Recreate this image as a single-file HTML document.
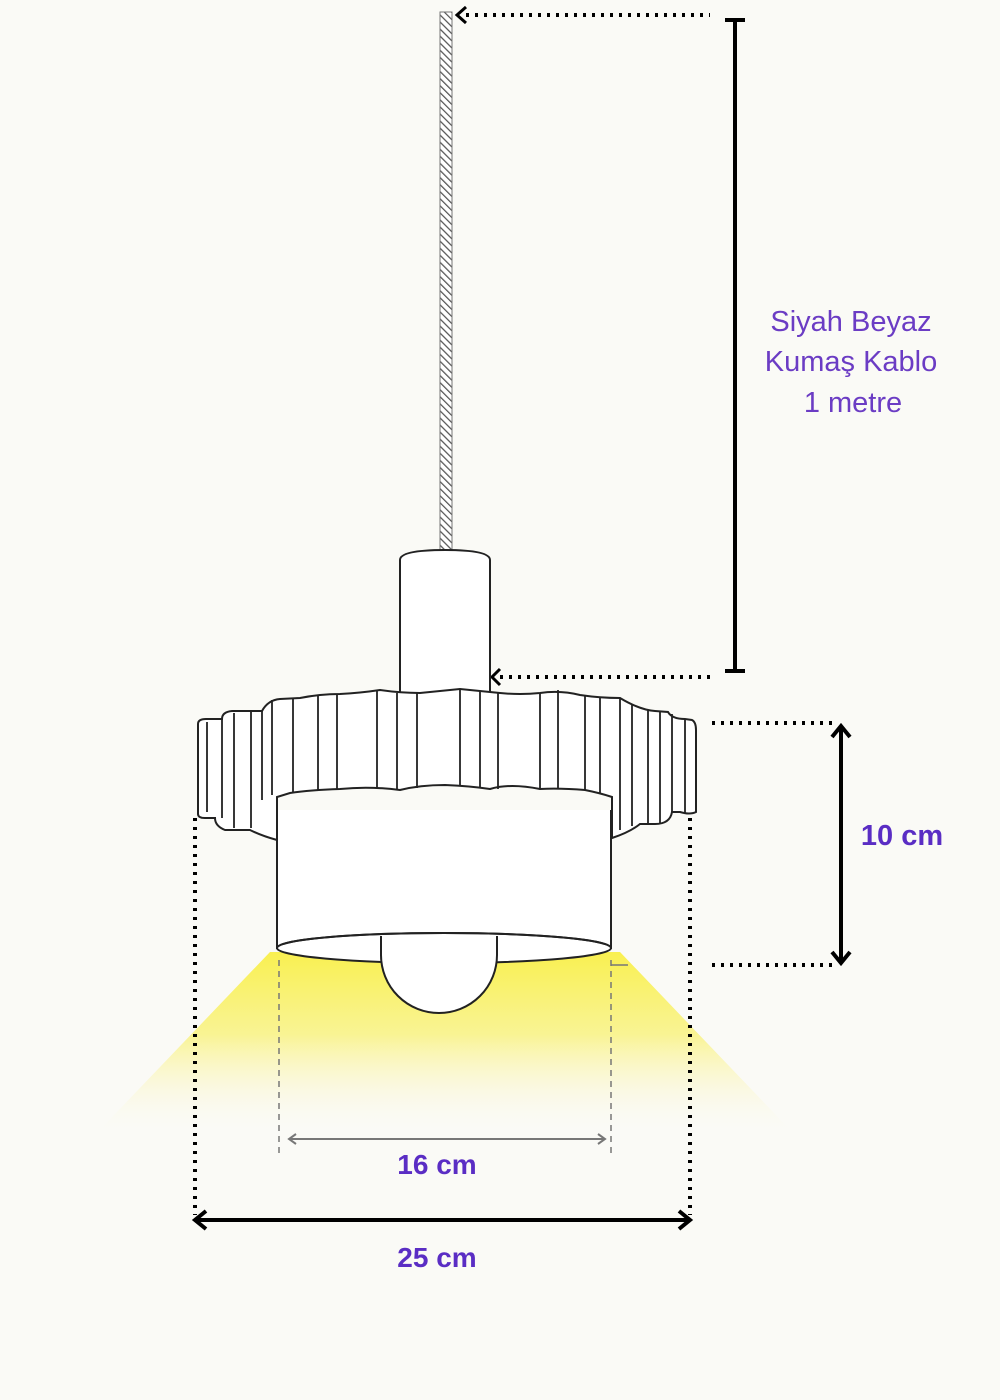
<!DOCTYPE html>
<html><head><meta charset="utf-8"><style>
html,body{margin:0;padding:0;background:#fafaf6;}
svg{display:block;}
text{font-family:"Liberation Sans",sans-serif;}
</style></head><body>
<svg width="1000" height="1400" viewBox="0 0 1000 1400" xmlns="http://www.w3.org/2000/svg">
<defs>
<pattern id="hatch" width="5" height="5" patternUnits="userSpaceOnUse" patternTransform="rotate(-45)">
<rect width="5" height="5" fill="#fff"/><line x1="0" y1="0" x2="0" y2="5" stroke="#555" stroke-width="2.5"/>
</pattern>
<linearGradient id="light" x1="0" y1="0" x2="0" y2="1">
<stop offset="0" stop-color="#f9f050" stop-opacity="1"/>
<stop offset="0.45" stop-color="#f9f27a" stop-opacity="0.8"/>
<stop offset="1" stop-color="#fafaf6" stop-opacity="0"/>
</linearGradient>
</defs>
<rect width="1000" height="1400" fill="#fafaf6"/>
<!-- light -->
<polygon points="270,952 620,952 795,1135 95,1135" fill="url(#light)"/>
<!-- cable -->
<rect x="440" y="12" width="12" height="540" fill="url(#hatch)" stroke="#777" stroke-width="1"/>
<!-- top dim -->
<line x1="466" y1="15" x2="710" y2="15" stroke="#000" stroke-width="4" stroke-dasharray="3,6"/>
<polyline points="466,7 457,15 466,23" fill="none" stroke="#000" stroke-width="3"/>
<line x1="735" y1="20" x2="735" y2="672" stroke="#000" stroke-width="4"/>
<line x1="725" y1="20" x2="745" y2="20" stroke="#000" stroke-width="4"/>
<line x1="725" y1="671" x2="745" y2="671" stroke="#000" stroke-width="4"/>
<line x1="500" y1="677" x2="712" y2="677" stroke="#000" stroke-width="4" stroke-dasharray="3,6"/>
<polyline points="500,669 492,677 500,685" fill="none" stroke="#000" stroke-width="3"/>
<text x="851" y="331" font-size="29" fill="#6b3cc4" text-anchor="middle">Siyah Beyaz</text>
<text x="851" y="371" font-size="29" fill="#6b3cc4" text-anchor="middle">Kumaş Kablo</text>
<text x="853" y="412" font-size="29" fill="#6b3cc4" text-anchor="middle">1 metre</text>
<!-- canopy -->
<path d="M400,693 L400,560 Q400,550 445,550 Q490,550 490,560 L490,693" fill="#fff" stroke="#222" stroke-width="2"/>
<!-- drum -->
<path d="M277,810 L277,948 L611,948 L611,810" fill="#fff" stroke="#222" stroke-width="2"/>
<!-- crown -->
<g fill="#fff" stroke="#222" stroke-width="2">
<path d="M198,814 L198,724 Q198,719 206,719 L222,719 Q222,712 232,711 L262,711 Q268,700 280,699 L300,698 Q320,694 340,694 Q360,693 380,690 Q400,693 420,693 Q440,691 460,689 Q480,691 500,693 Q520,695 540,693 Q560,690 580,695 Q600,698 620,698 Q640,710 655,711 L668,712 Q672,719 685,719 L692,720 Q696,722 696,730 L696,812 Q690,815 680,812 L672,812 Q670,824 655,824 L640,824 Q630,832 612,838 L612,797 Q600,793 585,790 Q560,788 540,789 Q510,783 490,789 Q470,786 445,785 Q420,785 400,790 Q370,786 340,789 Q310,790 290,793 L277,797 L277,840 Q262,836 250,830 L225,830 Q215,826 215,818 L205,818 Q198,818 198,814 Z"/>
</g>
<g stroke="#222" stroke-width="1.8">
<line x1="207" y1="722" x2="207" y2="812"/>
<line x1="222" y1="719" x2="222" y2="818"/>
<line x1="234" y1="713" x2="234" y2="828"/>
<line x1="251" y1="712" x2="251" y2="828"/>
<line x1="262" y1="711" x2="262" y2="800"/>
<line x1="272" y1="700" x2="272" y2="795"/>
<line x1="293" y1="698" x2="293" y2="792"/>
<line x1="318" y1="695" x2="318" y2="790"/>
<line x1="337" y1="694" x2="337" y2="789"/>
<line x1="377" y1="690" x2="377" y2="788"/>
<line x1="397" y1="693" x2="397" y2="790"/>
<line x1="417" y1="693" x2="417" y2="788"/>
<line x1="460" y1="689" x2="460" y2="786"/>
<line x1="480" y1="691" x2="480" y2="787"/>
<line x1="498" y1="693" x2="498" y2="789"/>
<line x1="540" y1="693" x2="540" y2="789"/>
<line x1="558" y1="690" x2="558" y2="788"/>
<line x1="585" y1="696" x2="585" y2="790"/>
<line x1="600" y1="698" x2="600" y2="793"/>
<line x1="620" y1="698" x2="620" y2="830"/>
<line x1="632" y1="704" x2="632" y2="826"/>
<line x1="648" y1="710" x2="648" y2="824"/>
<line x1="660" y1="711" x2="660" y2="824"/>
<line x1="672" y1="714" x2="672" y2="812"/>
<line x1="685" y1="719" x2="685" y2="814"/>
</g>
<!-- bottom ellipse & bulb -->
<ellipse cx="444" cy="948" rx="167" ry="15" fill="#fff" stroke="#222" stroke-width="2"/>
<path d="M381,936 Q381,960 381,955 A58,58 0 0 0 497,955 L497,936" fill="#fff" stroke="#222" stroke-width="2"/>
<path d="M277,948 A167,15 0 0 1 611,948" fill="none" stroke="#222" stroke-width="2"/>
<!-- 16 cm -->
<line x1="279" y1="960" x2="279" y2="1158" stroke="#777" stroke-width="1.5" stroke-dasharray="6,5"/>
<line x1="611" y1="960" x2="611" y2="1158" stroke="#777" stroke-width="1.5" stroke-dasharray="6,5"/>
<line x1="611" y1="965" x2="628" y2="965" stroke="#777" stroke-width="1.5"/>
<line x1="290" y1="1139" x2="604" y2="1139" stroke="#777" stroke-width="2"/>
<polyline points="296,1134 289,1139 296,1144" fill="none" stroke="#777" stroke-width="2"/>
<polyline points="598,1134 605,1139 598,1144" fill="none" stroke="#777" stroke-width="2"/>
<text x="437" y="1174" font-size="28" font-weight="bold" fill="#5a2dc4" text-anchor="middle">16 cm</text>
<!-- 25 cm -->
<line x1="195" y1="818" x2="195" y2="1215" stroke="#000" stroke-width="4" stroke-dasharray="3,6"/>
<line x1="690" y1="818" x2="690" y2="1215" stroke="#000" stroke-width="4" stroke-dasharray="3,6"/>
<line x1="196" y1="1220" x2="689" y2="1220" stroke="#000" stroke-width="4"/>
<polyline points="206,1211 195,1220 206,1229" fill="none" stroke="#000" stroke-width="4"/>
<polyline points="679,1211 690,1220 679,1229" fill="none" stroke="#000" stroke-width="4"/>
<text x="437" y="1267" font-size="28" font-weight="bold" fill="#5a2dc4" text-anchor="middle">25 cm</text>
<!-- 10 cm -->
<line x1="712" y1="723" x2="836" y2="723" stroke="#000" stroke-width="4" stroke-dasharray="3,6"/>
<line x1="712" y1="965" x2="836" y2="965" stroke="#000" stroke-width="4" stroke-dasharray="3,6"/>
<line x1="841" y1="727" x2="841" y2="962" stroke="#000" stroke-width="4"/>
<polyline points="832,737 841,726 850,737" fill="none" stroke="#000" stroke-width="4"/>
<polyline points="832,952 841,963 850,952" fill="none" stroke="#000" stroke-width="4"/>
<text x="902" y="845" font-size="29" font-weight="bold" fill="#5a2dc4" text-anchor="middle">10 cm</text>
</svg>
</body></html>
